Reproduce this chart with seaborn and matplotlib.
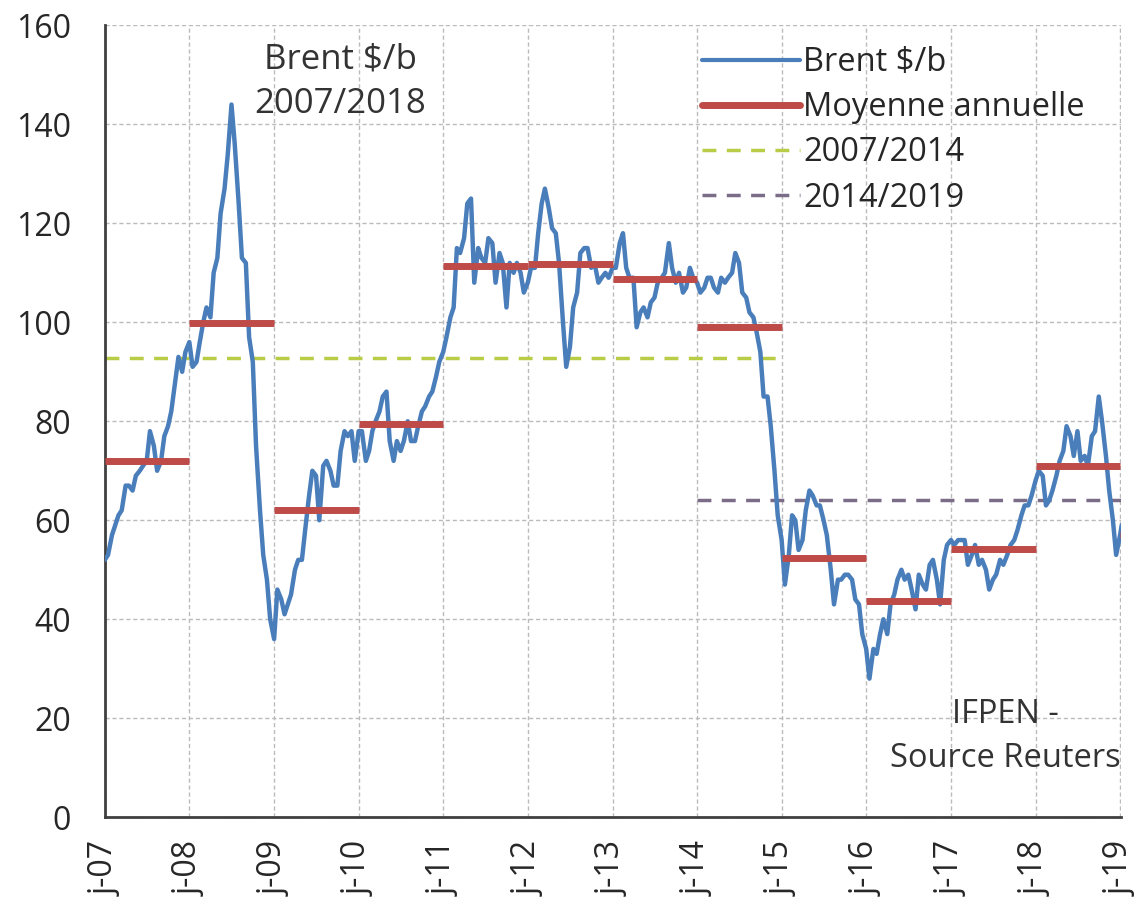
import pandas as pd
import numpy as np
import matplotlib
matplotlib.use("Agg")
import matplotlib.pyplot as plt
from matplotlib.lines import Line2D
import seaborn as sns

brent_2007 = [52, 53, 57, 59, 61, 62, 67, 67, 66, 69, 70, 71,
              72, 78, 75, 70, 72, 77, 79, 82, 88, 93, 90, 94]
brent_2008 = [96, 91, 92, 96, 100, 103, 101, 110, 113, 122, 127, 134,
              144, 136, 124, 113, 112, 97, 92, 75, 62, 53, 48, 40]
brent_2009 = [36, 46, 44, 41, 43, 45, 50, 52, 52, 58, 65, 70,
              69, 60, 71, 72, 70, 67, 67, 74, 78, 77, 78, 72]
brent_2010 = [78, 78, 72, 74, 78, 80, 82, 85, 86, 76, 72, 76,
              74, 76, 80, 76, 76, 79, 82, 83, 85, 86, 89, 92]
brent_2011 = [94, 97, 101, 103, 115, 114, 117, 124, 125, 108, 115, 113,
              112, 117, 116, 108, 114, 112, 103, 112, 110, 112, 110, 106]
brent_2012 = [108, 111, 111, 118, 124, 127, 123, 119, 118, 112, 100, 91,
              95, 103, 106, 114, 115, 115, 111, 112, 108, 109, 110, 109]
brent_2013 = [111, 111, 116, 118, 111, 109, 109, 99, 102, 103, 101, 104,
              105, 108, 109, 110, 116, 111, 108, 110, 106, 107, 111, 109]
brent_2014 = [108, 106, 107, 109, 109, 107, 106, 109, 108, 109, 110, 114,
              112, 106, 105, 102, 101, 98, 94, 85, 85, 79, 70, 61]
brent_2015 = [56, 47, 53, 61, 60, 54, 56, 62, 66, 65, 63, 63,
              60, 57, 50, 43, 48, 48, 49, 49, 48, 44, 43, 37]
brent_2016 = [34, 28, 34, 33, 37, 40, 37, 43, 45, 48, 50, 48,
              49, 46, 42, 49, 47, 46, 51, 52, 48, 43, 52, 55]
brent_2017 = [56, 55, 56, 56, 56, 51, 53, 55, 51, 52, 50, 46,
              48, 49, 52, 51, 53, 55, 56, 58, 61, 63, 63, 65]
brent_2018 = [68, 70, 69, 63, 64, 66, 69, 72, 74, 79, 77, 73,
              78, 72, 73, 71, 77, 78, 85, 80, 73, 66, 60, 53]
brent_2019 = [57, 59]

years = list(range(2007, 2019))
annual_mean = [72, 99.8, 62, 79.5, 111.3, 111.7, 108.7, 99, 52.3, 43.7, 54.2, 71]
mean_2019 = 57
avg_2007_2014 = 92.7
avg_2014_2019 = 64

yearly = [brent_2007, brent_2008, brent_2009, brent_2010, brent_2011, brent_2012,
          brent_2013, brent_2014, brent_2015, brent_2016, brent_2017, brent_2018]

dates, prices = [], []
for yr, vals in zip(years, yearly):
    for i, v in enumerate(vals):
        dates.append(pd.Timestamp(yr, i // 2 + 1, 1 if i % 2 == 0 else 15))
        prices.append(v)
for d, v in zip([pd.Timestamp(2019, 1, 1), pd.Timestamp(2019, 1, 8)], brent_2019):
    dates.append(d)
    prices.append(v)
df = pd.DataFrame({"date": dates, "brent": prices})

sns.set_style("white")
plt.rcParams["font.family"] = ["Open Sans", "DejaVu Sans"]

fig = plt.figure(figsize=(11.39, 9.05), dpi=100)
ax = fig.add_axes([0.092, 0.097, 0.892, 0.875])

blue = "#4A7EBB"
red = "#BE4B48"
green = "#B8CC45"
purple = "#7B6C88"

ax.grid(True, color="#BBBBBB", linestyle=(0, (3, 2)), linewidth=1.0)
ax.set_axisbelow(True)

sns.lineplot(data=df, x="date", y="brent", ax=ax, color=blue, linewidth=3.2, zorder=3)

starts = [pd.Timestamp(y, 1, 1) for y in years]
ends = [pd.Timestamp(y + 1, 1, 1) for y in years]
ax.hlines(annual_mean, starts, ends, colors=red, linewidth=5, zorder=4)
ax.hlines(mean_2019, pd.Timestamp(2019, 1, 1), pd.Timestamp(2019, 1, 10),
          colors=red, linewidth=5, zorder=4)
ax.hlines(avg_2007_2014, pd.Timestamp(2007, 1, 1), pd.Timestamp(2015, 1, 1),
          colors=green, linewidth=2.5, linestyles=(0, (4, 3)), zorder=2)
ax.hlines(avg_2014_2019, pd.Timestamp(2014, 1, 1), pd.Timestamp(2019, 1, 10),
          colors=purple, linewidth=2.5, linestyles=(0, (4, 3)), zorder=2)

ax.set_xlim(pd.Timestamp(2007, 1, 1), pd.Timestamp(2019, 1, 4))
ax.set_ylim(0, 160)
ax.set_yticks(range(0, 161, 20))
tick_dates = [pd.Timestamp(y, 1, 1) for y in range(2007, 2020)]
ax.set_xticks(tick_dates)
ax.set_xticklabels([f"j-{str(y)[2:]}" for y in range(2007, 2020)], rotation=90)
ax.set_xlabel("")
ax.set_ylabel("")
ax.tick_params(axis="both", labelsize=23, colors="#333333", width=1.5,
               direction="out", labelcolor="#262626")
ax.tick_params(axis="y", length=9.5, pad=15)
ax.tick_params(axis="x", length=7, pad=10)

for s in ["top", "right"]:
    ax.spines[s].set_visible(False)
for s in ["left", "bottom"]:
    ax.spines[s].set_color("#404040")
    ax.spines[s].set_linewidth(2)

ax.text(0.232, 0.929, "Brent $/b\n2007/2018", transform=ax.transAxes, ha="center",
        va="center", fontsize=25, color="#333333", linespacing=1.4)
ax.text(0.886, 0.102, "IFPEN -\nSource Reuters", transform=ax.transAxes, ha="center",
        va="center", fontsize=23.5, color="#333333", linespacing=1.45)

handles = [
    Line2D([], [], color=blue, linewidth=3),
    Line2D([], [], color=red, linewidth=5),
    Line2D([], [], color=green, linewidth=2.5, linestyle=(0, (4, 3))),
    Line2D([], [], color=purple, linewidth=2.5, linestyle=(0, (4, 3))),
]
labels = ["Brent $/b", "Moyenne annuelle", "2007/2014", "2014/2019"]
leg = ax.legend(handles, labels, loc="upper left", bbox_to_anchor=(0.575, 0.99),
                frameon=False, fontsize=23.5, handlelength=3.0, handletextpad=0.1,
                labelspacing=0.37, borderaxespad=0.0)
for t in leg.get_texts():
    t.set_color("#262626")

fig.savefig("out.png", dpi=100)
